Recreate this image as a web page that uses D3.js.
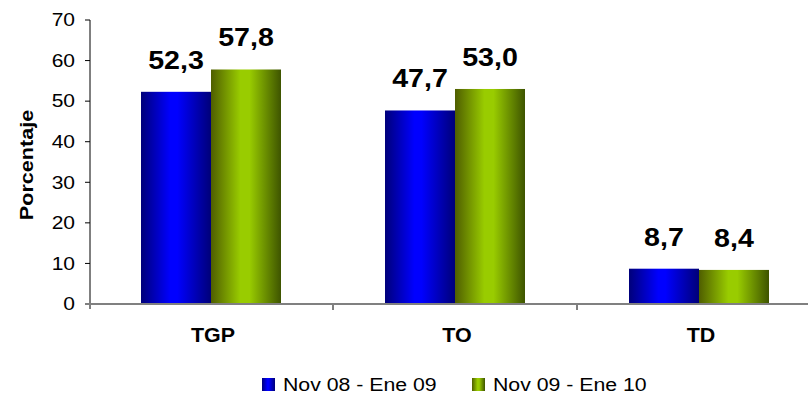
<!DOCTYPE html>
<html>
<head>
<meta charset="utf-8">
<script src="https://cdn.jsdelivr.net/npm/d3@7"></script>
<style>
  html, body { margin: 0; padding: 0; background: #fff; }
  svg { display: block; font-family: "Liberation Sans", Arial, sans-serif; }
</style>
</head>
<body>
<svg id="chart" width="808" height="395"></svg>
<script>
const categories = ["TGP", "TO", "TD"];
const seriesNames = ["Nov 08 - Ene 09", "Nov 09 - Ene 10"];
const series1 = [52.3, 47.7, 8.7];
const series2 = [57.8, 53.0, 8.4];
const yTicks = [0, 10, 20, 30, 40, 50, 60, 70];
const yTitle = "Porcentaje";

const svg = d3.select("#chart");

const defs = svg.append("defs");
function grad(id, stops) {
  const g = defs.append("linearGradient").attr("id", id)
    .attr("x1", "0%").attr("x2", "100%").attr("y1", "0%").attr("y2", "0%");
  stops.forEach(s => g.append("stop").attr("offset", s[0]).attr("stop-color", s[1]));
}
grad("gBlue", [["0%", "#00007a"], ["42%", "#0000ff"], ["52%", "#0000ff"], ["100%", "#000078"]]);
grad("gGreen", [["0%", "#4f5e00"], ["42%", "#99cc00"], ["55%", "#99cc00"], ["100%", "#3e5400"]]);
const fills = ["url(#gBlue)", "url(#gGreen)"];

const y = d3.scaleLinear().domain([0, 70]).range([304, 20]);
const x0 = d3.scaleBand().domain(categories).range([89, 821]).paddingInner(0).paddingOuter(0);
const x1 = d3.scaleBand().domain(seriesNames).range([0, x0.bandwidth()]).paddingInner(0).paddingOuter(0.743);

const data = categories.map((c, i) => ({ cat: c, vals: [series1[i], series2[i]] }));

// bars
const groups = svg.append("g").selectAll("g").data(data).join("g")
  .attr("transform", d => `translate(${x0(d.cat)},0)`);
groups.selectAll("rect").data(d => d.vals.map((v, j) => ({ v, s: seriesNames[j], j })))
  .join("rect")
  .attr("x", d => x1(d.s))
  .attr("width", x1.bandwidth())
  .attr("y", d => y(d.v))
  .attr("height", d => y(0) - y(d.v))
  .attr("fill", d => fills[d.j]);

// value labels
groups.selectAll("text.val").data(d => d.vals.map((v, j) => ({ v, s: seriesNames[j], j })))
  .join("text")
  .attr("class", "val")
  .attr("transform", d => `translate(${x1(d.s) + x1.bandwidth() / 2},${y(d.v) - 23}) scale(1.1,1)`)
  .attr("text-anchor", "middle")
  .attr("font-size", 26)
  .attr("font-weight", "bold")
  .attr("fill", "#000")
  .text(d => d3.format(".1f")(d.v).replace(".", ","));

// y axis
const yAxis = svg.append("g");
yAxis.append("line").attr("x1", 90).attr("x2", 90).attr("y1", y(70)).attr("y2", y(0) + 5)
  .attr("stroke", "#000").attr("stroke-width", 1);
yAxis.selectAll("line.tick").data(yTicks).join("line").attr("class", "tick")
  .attr("x1", 85).attr("x2", 90).attr("y1", d => y(d)).attr("y2", d => y(d))
  .attr("stroke", "#000").attr("stroke-width", 1);
yAxis.selectAll("text").data(yTicks).join("text")
  .attr("transform", d => `translate(75,${y(d) + 6.3}) scale(1.2,1)`)
  .attr("text-anchor", "end")
  .attr("font-size", 17.5)
  .attr("fill", "#000")
  .text(d => d);

// x axis
const xAxis = svg.append("g");
xAxis.append("line").attr("x1", 89).attr("x2", 821).attr("y1", y(0)).attr("y2", y(0))
  .attr("stroke", "#808080").attr("stroke-width", 2);
const bounds = categories.slice(1).map(c => x0(c));
xAxis.selectAll("line.tick").data(bounds).join("line").attr("class", "tick")
  .attr("x1", d => d).attr("x2", d => d).attr("y1", y(0) + 1).attr("y2", y(0) + 6)
  .attr("stroke", "#000").attr("stroke-width", 1);
xAxis.selectAll("text").data(categories).join("text")
  .attr("transform", d => `translate(${x0(d) + x0.bandwidth() / 2 + 2},341.5) scale(1.1,1)`)
  .attr("text-anchor", "middle")
  .attr("font-size", 19.5)
  .attr("font-weight", "bold")
  .attr("fill", "#000")
  .text(d => d);

// y title
svg.append("text")
  .attr("transform", `translate(33,165) rotate(-90) scale(1.2,1)`)
  .attr("text-anchor", "middle")
  .attr("font-size", 18)
  .attr("font-weight", "bold")
  .attr("fill", "#000")
  .text(yTitle);

// legend
const legendX = [262, 472];
const lg = svg.append("g").selectAll("g").data(seriesNames).join("g")
  .attr("transform", (d, i) => `translate(${legendX[i]},378)`);
lg.append("rect").attr("width", 13).attr("height", 13).attr("fill", (d, i) => fills[i]);
lg.append("text")
  .attr("transform", `translate(21,12.8) scale(1.12,1)`)
  .attr("font-size", 19)
  .attr("fill", "#000")
  .text(d => d);
</script>
</body>
</html>
